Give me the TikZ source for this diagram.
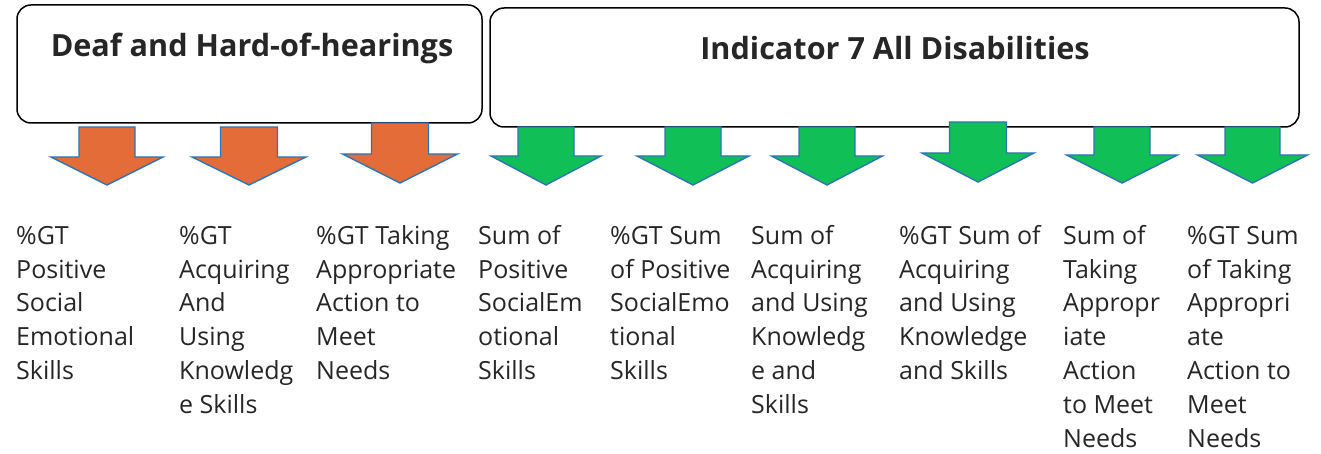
\documentclass[tikz,border=0pt]{standalone}
\usepackage{fontspec}
\setmainfont{Open Sans}
\definecolor{arrorange}{HTML}{E46C38}
\definecolor{arrgreen}{HTML}{10BF55}
\definecolor{arrline}{HTML}{2E75B6}
\definecolor{txt}{HTML}{262626}
\tikzset{
  hdrbox/.style={draw=black, line width=1.5pt, rounded corners=14pt, fill=white},
  hdrtext/.style={font={\fontsize{30.6}{34}\selectfont\bfseries}, text=txt, inner sep=0pt, anchor=base},
  bodytext/.style={font={\fontsize{25}{33.8}\selectfont}, text=txt, inner sep=0pt, anchor=north west, align=left},
  barrow/.style={draw=arrline, line width=1.4pt, line join=miter},
  orangearrow/.style={barrow, fill=arrorange},
  greenarrow/.style={barrow, fill=arrgreen}
}
% #1 style, #2 centre x, #3 shaft half width, #4 head half width, #5 shaft top, #6 head top, #7 tip
\newcommand\blockarrowdraw[7]{%
  \draw[#1] (#2-#3,#5) -- (#2+#3,#5) -- (#2+#3,#6) -- (#2+#4,#6) -- (#2,#7)
     -- (#2-#4,#6) -- (#2-#3,#6) -- cycle;}
\begin{document}
\begin{tikzpicture}[x=1pt,y=-1pt]
\useasboundingbox (0,0) rectangle (1321,454);
% header boxes
\draw[hdrbox] (17,5) rectangle (482,123);
\node[hdrtext] (deaf) at (252,57) {Deaf and Hard-of-hearings};
\draw[hdrbox] (490,8) rectangle (1299,127);
\node[hdrtext] (ind) at (895,60) {Indicator 7 All Disabilities};
% orange arrows
\blockarrowdraw{orangearrow}{107}{28}{56}{127}{157}{185}
\blockarrowdraw{orangearrow}{249}{28.5}{57}{127}{157}{185}
\blockarrowdraw{orangearrow}{400}{28.5}{57.5}{123}{154}{183}
% green arrows
\blockarrowdraw{greenarrow}{546}{28}{55}{127}{156}{185}
\blockarrowdraw{greenarrow}{693}{28}{56}{127}{156}{185}
\blockarrowdraw{greenarrow}{827}{28}{55.5}{127}{156}{185}
\blockarrowdraw{greenarrow}{978}{28.5}{56}{122}{153}{182}
\blockarrowdraw{greenarrow}{1122}{28}{55.5}{127}{155}{183}
\blockarrowdraw{greenarrow}{1252.5}{27.5}{55}{127}{155}{183}
% labels
\node[bodytext] (t1) at (16,220.5) {\strut\%GT\\Positive\\Social\\Emotional\\Skills};
\node[bodytext] (t2) at (179,220.5) {\strut\%GT\\Acquiring\\And\\Using\\Knowledg\\e Skills};
\node[bodytext] (t3) at (316,220.5) {\strut\%GT Taking\\Appropriate\\Action to\\Meet\\Needs};
\node[bodytext] (t4) at (478,220.5) {\strut Sum of\\Positive\\SocialEm\\otional\\Skills};
\node[bodytext] (t5) at (610,220.5) {\strut\%GT Sum\\of Positive\\SocialEmo\\tional\\Skills};
\node[bodytext] (t6) at (751,220.5) {\strut Sum of\\Acquiring\\and Using\\Knowledg\\e and\\Skills};
\node[bodytext] (t7) at (899,220.5) {\strut\%GT Sum of\\Acquiring\\and Using\\Knowledge\\and Skills};
\node[bodytext] (t8) at (1063,220.5) {\strut Sum of\\Taking\\Appropr\\iate\\Action\\to Meet\\Needs};
\node[bodytext] (t9) at (1187,220.5) {\strut\%GT Sum\\of Taking\\Appropri\\ate\\Action to\\Meet\\Needs};
\end{tikzpicture}
\end{document}
